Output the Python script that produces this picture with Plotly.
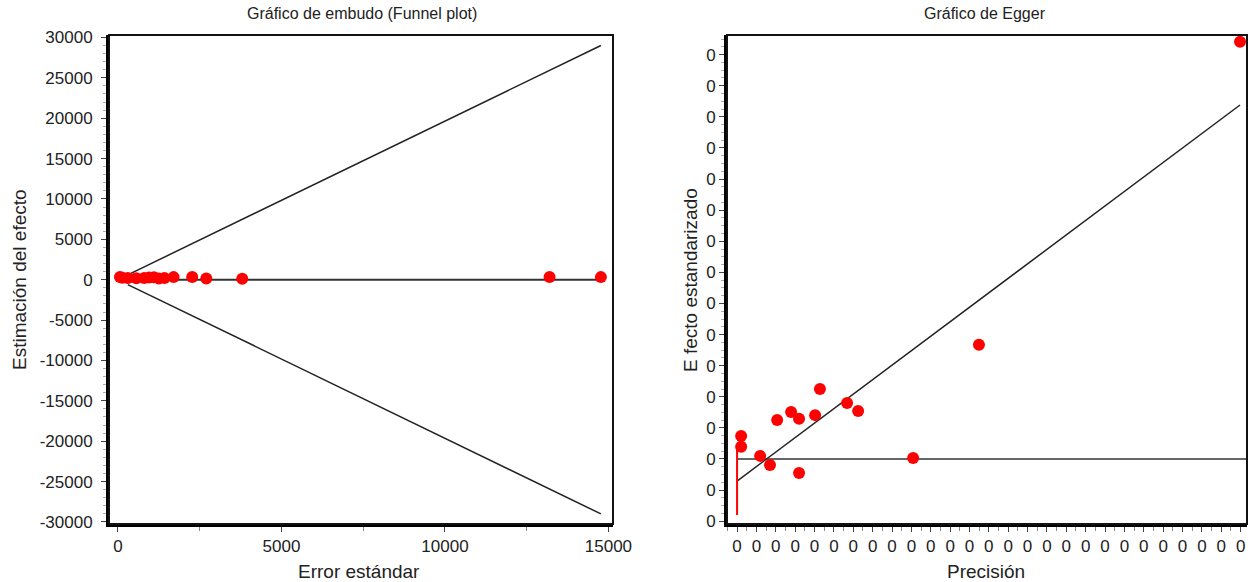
import plotly.graph_objects as go

# ---------------- Funnel plot data ----------------
funnel_se = [60, 130, 300, 560, 800, 1100, 1250, 1420, 1700, 2270, 2700, 3800, 13200, 14770, 950]
funnel_est = [330, 250, 200, 180, 210, 300, 150, 220, 320, 330, 150, 130, 330, 320, 260]
funnel_hline_x = [120, 14770]
funnel_hline_y = [0, 0]
funnel_upper_x = [300, 14770]
funnel_upper_y = [600, 29000]
funnel_lower_x = [300, 14770]
funnel_lower_y = [-600, -29000]
funnel_xticks = [0, 5000, 10000, 15000]
funnel_xticktext = ["0", "5000", "10000", "15000"]
funnel_yticks = [-30000, -25000, -20000, -15000, -10000, -5000, 0, 5000, 10000, 15000, 20000, 25000, 30000]
funnel_yticktext = ["-30000", "-25000", "-20000", "-15000", "-10000", "-5000", "0",
                    "5000", "10000", "15000", "20000", "25000", "30000"]

# ---------------- Egger plot data (axis units) ----------------
egger_prec = [25.97, 0.21, 0.21, 1.19, 1.70, 2.07, 2.79, 3.20, 3.20, 4.03, 4.28, 5.68, 6.25, 9.09, 12.49]
egger_std = [13.41, 0.74, 0.39, 0.10, -0.19, 1.25, 1.51, 1.29, -0.45, 1.41, 2.25, 1.80, 1.54, 0.03, 3.67]
egger_reg_x = [0, 25.97]
egger_reg_y = [-0.71, 11.38]
egger_hline_x = [0, 26.3]
egger_hline_y = [0, 0]
egger_ci_x = [0, 0]
egger_ci_y = [-1.80, 0.42]
egger_xticks = list(range(0, 27))
egger_xticktext = ["0"] * 27
egger_yticks = list(range(-2, 14))
egger_yticktext = ["0"] * 16

FONT = "Liberation Sans, Arial, sans-serif"
W, H = 1254, 582
fig = go.Figure()

# Funnel plot
fig.add_trace(go.Scatter(x=funnel_upper_x, y=funnel_upper_y, mode="lines",
                         line=dict(color="#222", width=1.5), xaxis="x", yaxis="y"))
fig.add_trace(go.Scatter(x=funnel_lower_x, y=funnel_lower_y, mode="lines",
                         line=dict(color="#222", width=1.5), xaxis="x", yaxis="y"))
fig.add_trace(go.Scatter(x=funnel_hline_x, y=funnel_hline_y, mode="lines",
                         line=dict(color="#333", width=2), xaxis="x", yaxis="y"))
fig.add_trace(go.Scatter(x=funnel_se, y=funnel_est, mode="markers",
                         marker=dict(color="red", size=12, symbol="circle"), xaxis="x", yaxis="y"))

# Egger plot
fig.add_trace(go.Scatter(x=egger_hline_x, y=egger_hline_y, mode="lines",
                         line=dict(color="#333", width=1.5), xaxis="x2", yaxis="y2"))
fig.add_trace(go.Scatter(x=egger_reg_x, y=egger_reg_y, mode="lines",
                         line=dict(color="#222", width=1.5), xaxis="x2", yaxis="y2"))
fig.add_trace(go.Scatter(x=egger_ci_x, y=egger_ci_y, mode="lines",
                         line=dict(color="red", width=2), xaxis="x2", yaxis="y2"))
fig.add_trace(go.Scatter(x=egger_prec, y=egger_std, mode="markers",
                         marker=dict(color="red", size=12, symbol="circle"), xaxis="x2", yaxis="y2"))

common_axis = dict(showgrid=False, zeroline=False, showline=True, linecolor="black", linewidth=3,
                   ticks="outside", ticklen=5, tickcolor="#444", tickwidth=1, automargin=False,
                   tickfont=dict(size=17, color="#222", family=FONT))

def px_x(p):
    return p / W

def px_y(p):
    return 1 - p / H

def label(text, x, y, size, angle=0):
    return dict(text=text, x=px_x(x), y=px_y(y), xref="paper", yref="paper",
                xanchor="center", yanchor="middle", textangle=angle, showarrow=False,
                font=dict(size=size, color="#222", family=FONT))

fig.update_layout(
    width=W, height=H, showlegend=False,
    paper_bgcolor="white", plot_bgcolor="white",
    margin=dict(l=0, r=0, t=0, b=0, pad=0),
    font=dict(family=FONT, color="#222"),
    xaxis=dict(domain=[px_x(109), px_x(613)], range=[-275, 15140], anchor="y",
               tickmode="array", tickvals=funnel_xticks, ticktext=funnel_xticktext,
               minor=dict(ticks="outside", dtick=2500, tick0=0, ticklen=4, tickcolor="#888"),
               **common_axis),
    yaxis=dict(domain=[px_y(524), px_y(35)], range=[-30250, 30300], anchor="x",
               tickmode="array", tickvals=funnel_yticks, ticktext=funnel_yticktext,
               minor=dict(ticks="outside", dtick=1000, tick0=0, ticklen=3, tickcolor="#aaa"),
               ticklabelstandoff=5,
               **common_axis),
    xaxis2=dict(domain=[px_x(727), px_x(1247)], range=[-0.52, 26.33], anchor="y2",
                tickmode="array", tickvals=egger_xticks, ticktext=egger_xticktext,
                minor=dict(ticks="outside", dtick=0.5, tick0=0, ticklen=4, tickcolor="#888"),
                **common_axis),
    yaxis2=dict(domain=[px_y(524), px_y(35)], range=[-2.09, 13.63], anchor="x2",
                tickmode="array", tickvals=egger_yticks, ticktext=egger_yticktext,
                minor=dict(ticks="outside", dtick=0.25, tick0=0, ticklen=3, tickcolor="#aaa"),
                **common_axis),
    annotations=[
        label("Gráfico de embudo (Funnel plot)", 362, 13, 16),
        label("Gráfico de Egger", 985, 13, 16),
        label("Error estándar", 359, 571, 19),
        label("Precisión", 986, 571, 19),
        label("Estimación del efecto", 19, 280, 19, -90),
        label("E fecto estandarizado", 690, 280, 19, -90),
    ],
    shapes=[
        dict(type="rect", xref="x domain", yref="y domain", x0=0, x1=1, y0=0, y1=1,
             line=dict(color="#111", width=2), layer="above"),
        dict(type="rect", xref="x2 domain", yref="y2 domain", x0=0, x1=1, y0=0, y1=1,
             line=dict(color="#111", width=2), layer="above"),
    ],
)

fig.write_html("out.html", config={"displayModeBar": False})

# remove the default page margin so the figure sits at the window's top-left corner
with open("out.html", "r", encoding="utf-8") as f:
    html = f.read()
html = html.replace("<body>", '<body style="margin:0;padding:0;overflow:hidden">', 1)
with open("out.html", "w", encoding="utf-8") as f:
    f.write(html)
